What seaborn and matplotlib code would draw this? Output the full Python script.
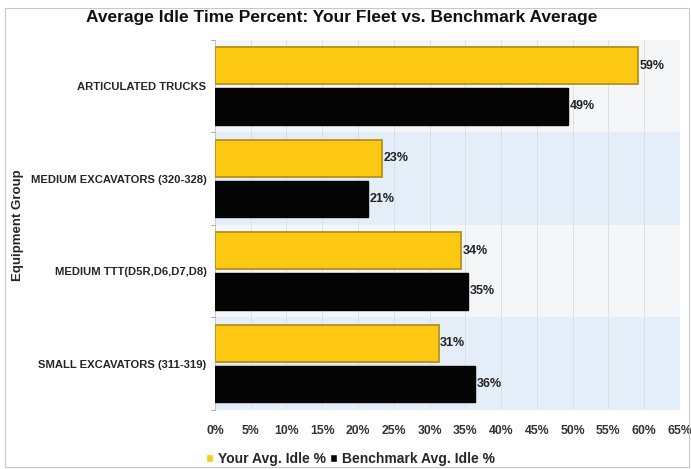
import matplotlib
matplotlib.use("Agg")
import matplotlib.pyplot as plt
import seaborn as sns
import pandas as pd
from matplotlib.patches import Rectangle

# data
groups = ["ARTICULATED TRUCKS", "MEDIUM EXCAVATORS (320-328)",
          "MEDIUM TTT(D5R,D6,D7,D8)", "SMALL EXCAVATORS (311-319)"]
your_idle = [59.2, 23.4, 34.4, 31.3]
bench_idle = [49.4, 21.4, 35.4, 36.4]
series = ["Your Avg. Idle %", "Benchmark Avg. Idle %"]
x_ticks = list(range(0, 70, 5))

df = pd.DataFrame({
    "group": groups * 2,
    "idle": your_idle + bench_idle,
    "series": [series[0]] * len(groups) + [series[1]] * len(groups),
})

sns.set_style("white")
plt.rcParams["font.family"] = ["Liberation Sans", "DejaVu Sans"]

fig = plt.figure(figsize=(6.91, 4.69), dpi=100)
ax = fig.add_axes([0.311, 0.126, 0.673, 0.789])

# alternating background bands
band_colors = ["#f5f6f8", "#e3eef8"]
for i in range(len(groups)):
    ax.axhspan(i - 0.5, i + 0.5, color=band_colors[i % 2], zorder=0)

sns.barplot(data=df, x="idle", y="group", hue="series",
            palette=["#fdc811", "#050505"], width=0.88, gap=0.1, dodge=True,
            saturation=1, ax=ax, zorder=3, legend=True)

# yellow bars get a darker edge like the 3D look of the original
for bar in ax.containers[0]:
    bar.set_edgecolor("#b5901c")
    bar.set_linewidth(1.3)
for bar in ax.containers[1]:
    bar.set_edgecolor("#050505")

for cont in ax.containers:
    ax.bar_label(cont, labels=[f"{v:.0f}%" for v in cont.datavalues],
                 padding=1, fontsize=9, fontweight="bold", color="#222222")

ax.set_xlim(0, 65)
ax.set_ylim(len(groups) - 0.5, -0.5)
ax.set_xticks(x_ticks)
ax.set_xticklabels([f"{t}%" for t in x_ticks], fontsize=8.8, fontweight="bold",
                   color="#333333")
ax.tick_params(axis="x", length=3, width=0.6, color="#aaaaaa", pad=8)
ax.tick_params(axis="y", length=0, pad=6)
for lab in ax.get_yticklabels():
    lab.set_fontsize(8.1)
    lab.set_fontweight("bold")
ax.grid(axis="x", color="#dcdfe3", linewidth=0.7, zorder=1)
ax.set_axisbelow(True)
for sp in ["top", "right", "bottom"]:
    ax.spines[sp].set_visible(False)
ax.spines["left"].set_color("#c8c8c8")
ax.spines["left"].set_linewidth(0.7)

# small separators between groups on the left axis
for i in range(len(groups) + 1):
    ax.plot([-0.5, 0], [i - 0.5, i - 0.5], color="#aaaaaa", lw=0.7,
            clip_on=False, zorder=4)

ax.set_xlabel("")
ax.set_ylabel("Equipment Group", fontsize=9.5, fontweight="bold")
ax.yaxis.set_label_coords(-0.41, 0.5)

fig.text(0.495, 0.963, "Average Idle Time Percent: Your Fleet vs. Benchmark Average",
         ha="center", va="center", fontsize=12.5, fontweight="bold",
         color="#111111")

handles, labels = ax.get_legend_handles_labels()
ax.legend(handles, labels, loc="upper left", bbox_to_anchor=(-0.045, -0.08),
          ncol=2, frameon=False, handlelength=0.45, handleheight=0.45,
          handletextpad=0.4, columnspacing=0.3,
          prop={"weight": "bold", "size": 10})

fig.patches.append(Rectangle((0.007, 0.005), 0.99, 0.978, transform=fig.transFigure,
                             fill=False, edgecolor="#c8c8c8", linewidth=0.8))

fig.savefig("out.png", dpi=100, facecolor="white")
